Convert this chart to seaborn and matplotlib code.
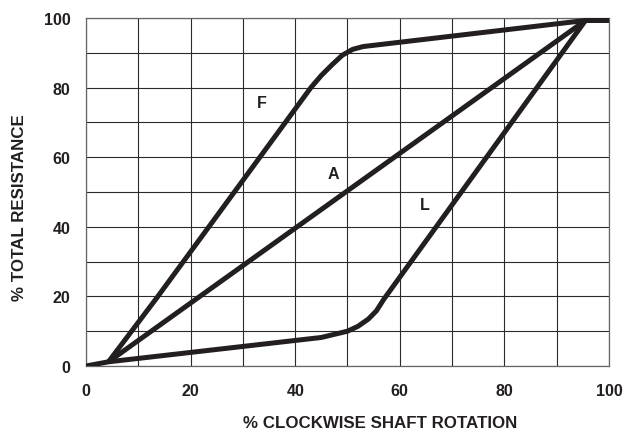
import matplotlib
matplotlib.use("Agg")
import matplotlib.pyplot as plt
import seaborn as sns
import pandas as pd

# Curve data (x = % rotation, y = % resistance)
f_x = [4.3, 13.5, 43, 45, 47, 49, 51, 53, 95.5, 100]
f_y = [1.2, 19.5, 80, 83.5, 86.5, 89.3, 91.0, 91.8, 99.3, 99.3]
a_x = [4.3, 95.5, 100]
a_y = [1.2, 99.3, 99.3]
l_x = [0, 4.3, 45, 50, 52, 54, 55.5, 57, 95.5, 100]
l_y = [0, 1.2, 8.2, 10.0, 11.4, 13.5, 15.8, 19.3, 99.3, 99.3]

curve_labels = ["F", "A", "L"]
label_x = [33.7, 47.2, 64.8]
label_y = [75.6, 55.4, 46.5]

x_ticks = [0, 20, 40, 60, 80, 100]
y_ticks = [0, 20, 40, 60, 80, 100]

sns.set_theme(style="white")
plt.rcParams['font.family'] = ['Liberation Sans', 'DejaVu Sans']

frames = []
for name, xs, ys in [("F", f_x, f_y), ("A", a_x, a_y), ("L", l_x, l_y)]:
    frames.append(pd.DataFrame({"x": xs, "y": ys, "curve": name}))
df = pd.concat(frames, ignore_index=True)

fig = plt.figure(figsize=(6.34, 4.31), dpi=100)
ax = fig.add_axes([0.1356, 0.1485, 0.825, 0.8074])

for name in ["F", "A", "L"]:
    sub = df[df.curve == name]
    sns.lineplot(data=sub, x="x", y="y", sort=False, estimator=None, ax=ax,
                 color="#231f20", linewidth=3.6, solid_capstyle="butt",
                 solid_joinstyle="round", zorder=3)

for t, lx, ly in zip(curve_labels, label_x, label_y):
    ax.text(lx, ly, t, fontsize=11.5, fontweight="bold", ha="center", va="center",
            color="#231f20")

ax.set_xlim(0, 100)
ax.set_ylim(0, 100)
ax.set_xticks(x_ticks)
ax.set_yticks(y_ticks)
ax.set_xticks(range(0, 101, 10), minor=True)
ax.set_yticks(range(0, 101, 10), minor=True)
ax.grid(True, which="both", color="#2a2a2a", linewidth=0.8)
ax.set_axisbelow(True)
ax.tick_params(axis="both", which="both", length=0, labelsize=11.5)
ax.tick_params(axis="x", pad=12)
ax.tick_params(axis="y", pad=11)
for lab in ax.get_xticklabels() + ax.get_yticklabels():
    lab.set_fontweight("bold")
    lab.set_color("#231f20")
for s in ax.spines.values():
    s.set_color("#666666")
    s.set_linewidth(0.9)

ax.set_xlabel("% CLOCKWISE SHAFT ROTATION", fontsize=12.2, fontweight="bold",
              color="#231f20", va="center", ha="center")
ax.xaxis.set_label_coords(0.562, -0.161)
ax.set_ylabel("% TOTAL RESISTANCE", fontsize=12.2, fontweight="bold",
              color="#231f20", va="center", ha="center")
ax.yaxis.set_label_coords(-0.128, 0.457)
if ax.get_legend():
    ax.get_legend().remove()

fig.savefig("out.png", dpi=100)
